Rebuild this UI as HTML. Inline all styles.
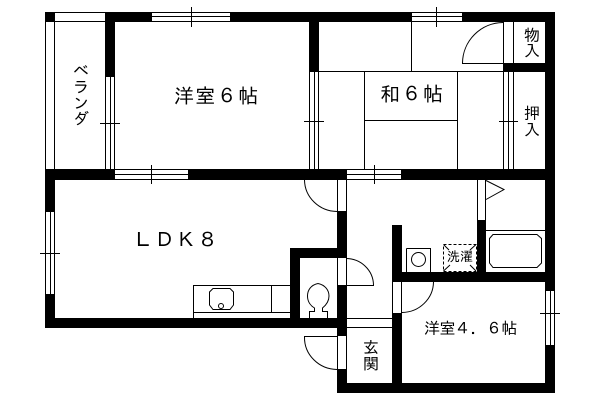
<!DOCTYPE html>
<html lang="ja"><head><meta charset="utf-8"><style>
html,body{margin:0;padding:0;background:#fff}
#p{position:relative;width:600px;height:400px;overflow:hidden;background:#fff}
svg{position:absolute;left:0;top:0}
.t{position:absolute;font-family:"Liberation Sans","IPAGothic","Noto Sans CJK JP",sans-serif;color:#000;white-space:nowrap;line-height:1}
.v{writing-mode:vertical-rl;text-orientation:upright}
</style></head><body><div id="p">
<svg width="600" height="400" viewBox="0 0 600 400">
<g fill="#000" shape-rendering="crispEdges">
<rect x="45" y="12" width="10" height="10"/>
<rect x="105" y="12" width="47" height="10"/>
<rect x="230" y="12" width="182" height="10"/>
<rect x="462" y="12" width="93" height="10"/>
<rect x="105" y="12" width="10" height="65"/>
<rect x="309" y="12" width="10" height="60"/>
<rect x="503" y="63" width="52" height="9"/>
<rect x="545" y="12" width="10" height="279"/>
<rect x="545" y="345" width="10" height="48"/>
<rect x="45" y="169" width="70" height="11"/>
<rect x="188" y="169" width="159" height="11"/>
<rect x="401" y="169" width="154" height="11"/>
<rect x="45" y="169" width="10" height="43"/>
<rect x="45" y="294" width="10" height="34"/>
<rect x="45" y="318" width="302" height="10"/>
<rect x="337" y="211" width="10" height="47"/>
<rect x="337" y="285" width="10" height="51"/>
<rect x="337" y="369" width="10" height="24"/>
<rect x="290" y="248" width="57" height="10"/>
<rect x="290" y="248" width="10" height="70"/>
<rect x="337" y="383" width="218" height="10"/>
<rect x="392" y="225" width="10" height="57"/>
<rect x="392" y="272" width="163" height="10"/>
<rect x="392" y="313" width="10" height="80"/>
<rect x="477" y="220" width="9" height="62"/>
</g>
<g fill="none" stroke="#000" stroke-width="1" shape-rendering="crispEdges">
<path d="M55 12.5H105M55 21.5H105M45.5 21V169M54.5 21V169"/>
<path d="M152 12.5H230M152 16.5H230M152 21.5H230M191.5 7V27"/>
<path d="M412 12.5H462M412 16.5H462M412 21.5H462M436.5 7V27"/>
<path d="M105.5 77V169M110.5 77V169M114.5 77V169M100 123.5H120"/>
<path d="M309.5 72V169M314.5 72V169M318.5 72V169M304 121.5H324"/>
<path d="M115 169.5H188M115 174.5H188M115 179.5H188M151.5 165V184"/>
<path d="M347 169.5H401M347 174.5H401M347 179.5H401M374.5 165V184"/>
<path d="M45.5 212V294M50.5 212V294M54.5 212V294M40 253.5H60"/>
<path d="M545.5 291V345M550.5 291V345M554.5 291V345M540 313.5H560"/>
<path d="M319 71.5H503M411.5 21V71M364.5 71V169M457.5 71V169M364 120.5H457"/>
<path d="M503.5 21V63M513.5 21V63M503.5 72V169M508.5 72V169M513.5 72V169M499 121.5H518"/>
<path d="M462 63.5H503"/>
<path d="M337.5 180V211M346.5 180V211M337.5 258V285M346.5 258V285M337.5 336V369M346.5 336V369"/>
<path d="M392.5 282V313M401.5 282V313M477.5 180V220M485.5 180V220"/>
<path d="M346 285.5H374M304 336.5H337M346 318.5H392M346 327.5H392"/>
<path d="M486 230.5H545M406.5 248.5H430.5V272M406.5 248.5V272"/>
<path d="M193.5 285.5H290M193.5 285V318M193 312.5H290M271.5 285V312"/>
</g>
<g fill="none" stroke="#000" stroke-width="1">
<path d="M462.5 63A41 41 0 0 1 503 22.5"/>
<path d="M304.5 180A33 32 0 0 0 337 211.5"/>
<path d="M346 258.5A27.5 27 0 0 1 373.5 285"/>
<path d="M304.5 337A33 32 0 0 0 337 369.5"/>
<path d="M433.5 282A32 31 0 0 1 402 312.5"/>
<path d="M486 180.5L504 189.5L486 199.5"/>
<path d="M493 234.5H537L541.5 238.5V263L537 267.5H493L489.5 263V238.5Z"/>
<circle cx="418.5" cy="259.5" r="7"/>
<path d="M213 288.5H230L233.5 292V305L230 309.5H213L209.5 305V292Z"/>
<circle cx="221" cy="306" r="2.5"/>
<path d="M318 283.5C311 285 307.5 290 307.5 296C307.5 302 311 306 314.5 308V311.5H309.5V318M318 283.5C325 285 329 290 329 296C329 302 325 306 322.5 308V311.5H327.5V318"/>
<rect x="443.5" y="244.5" width="33" height="27" stroke-dasharray="3 2"/>
<path d="M443.5 271L450 265M476 244.5L470 250M476 271L470 265M443.5 244.5L449 250"/>
</g>
</svg>
<div class="t" style="left:174px;top:87px;font-size:20px;letter-spacing:1.4px">洋室６帖</div>
<div class="t" style="left:380px;top:85px;font-size:20px;letter-spacing:1.5px">和６帖</div>
<div class="t" style="left:133px;top:231px;font-size:20px;letter-spacing:1.5px">ＬＤＫ８</div>
<div class="t" style="left:424px;top:322px;font-size:16px;letter-spacing:-.5px">洋室４．６帖</div>
<div class="t v" style="left:71px;top:62px;font-size:16px">ベランダ</div>
<div class="t v" style="left:522px;top:26px;font-size:16px">物入</div>
<div class="t v" style="left:522px;top:105px;font-size:16px">押入</div>
<div class="t v" style="left:361px;top:339px;font-size:16px">玄関</div>
<div class="t" style="left:447px;top:250px;font-size:13px">洗濯</div>
</div></body></html>
